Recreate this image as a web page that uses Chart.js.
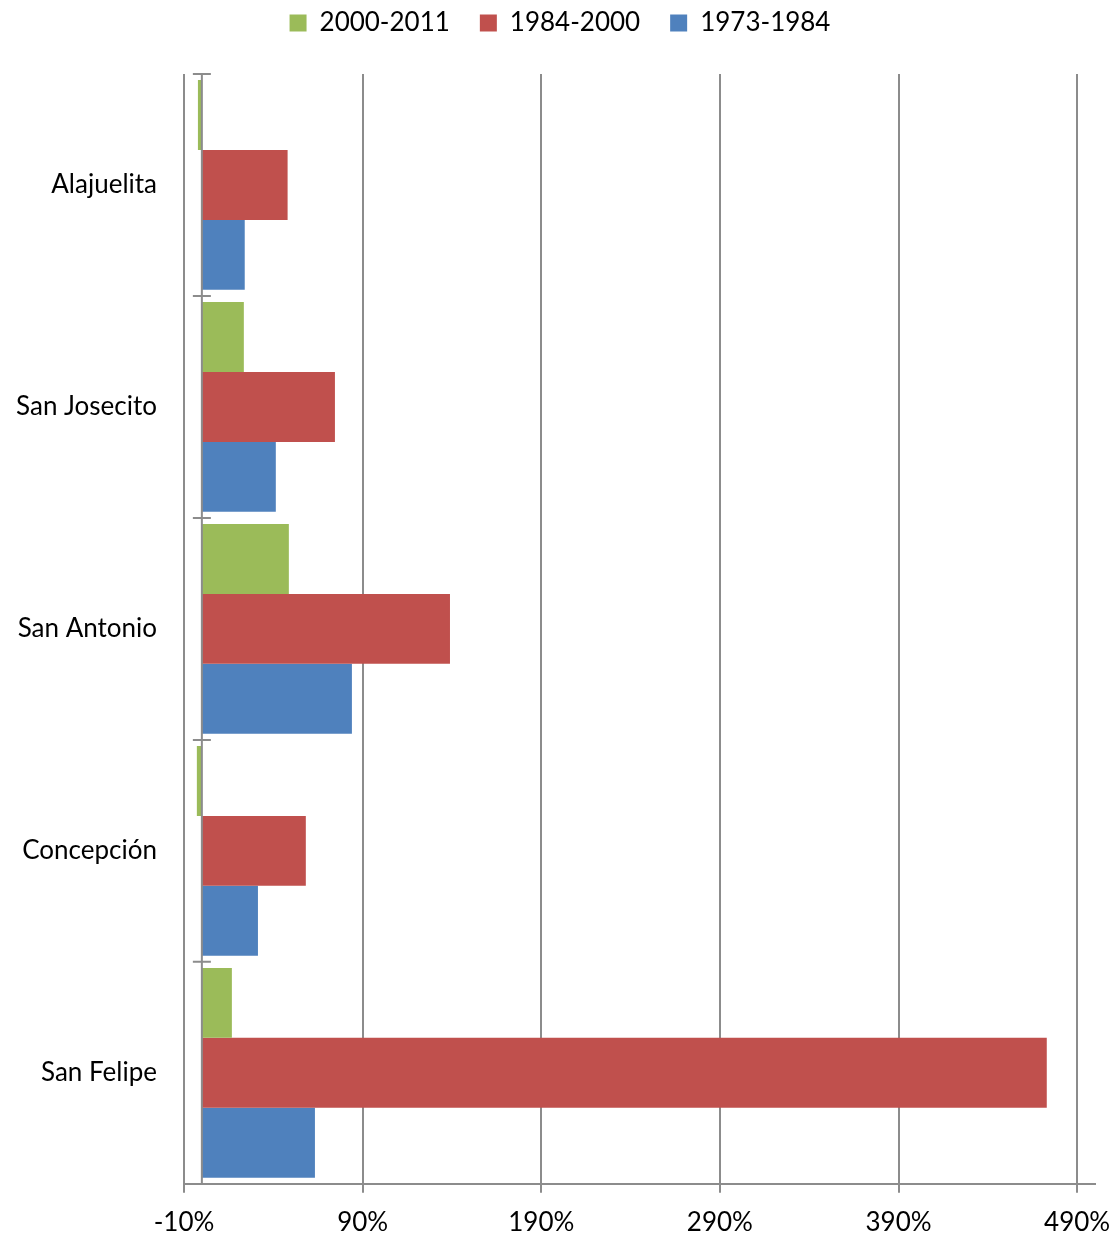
<!DOCTYPE html>
<html>
<head>
<meta charset="utf-8">
<script src="https://cdn.jsdelivr.net/npm/chart.js@4"></script>
<style>
  body { margin: 0; background: #fff; }
  #wrap { width: 1120px; height: 1238px; }
</style>
</head>
<body>
<div id="wrap"><canvas id="chart" width="1120" height="1238"></canvas></div>
<script>
const categories = ['Alajuelita', 'San Josecito', 'San Antonio', 'Concepción', 'San Felipe']
const serie2000 = [-2.2, 23.5, 48.7, -2.8, 16.8]
const serie1984 = [48, 74.5, 138.9, 58.2, 473]
const serie1973 = [24, 41.4, 84, 31.4, 63.3]
const tickValues = [-10, 90, 190, 290, 390, 490]

const gridGray = '#8c8c8c'
const fontFamily = 'Lato, "Open Sans", sans-serif'
const fontSize = 26

// zero line + short marks between categories, like the excel axis
const zeroAxis = {
  id: 'zeroAxis',
  afterDatasetsDraw(chart) {
    const { ctx, scales, chartArea } = chart
    const x0 = scales.x.getPixelForValue(0)
    ctx.save()
    ctx.strokeStyle = gridGray
    ctx.lineWidth = 2
    ctx.beginPath()
    ctx.moveTo(x0, chartArea.top)
    ctx.lineTo(x0, chartArea.bottom)
    const step = (chartArea.bottom - chartArea.top) / categories.length
    for (let i = 0; i < categories.length; i++) {
      const y = chartArea.top + i * step
      ctx.moveTo(x0 - 9, y)
      ctx.lineTo(x0 + 9, y)
    }
    ctx.stroke()
    ctx.restore()
  }
}

// more room under the legend
const legendGap = {
  id: 'legendGap',
  beforeInit(chart) {
    const fit = chart.legend.fit
    chart.legend.fit = function () {
      fit.call(this)
      this.height += 28
    }
  }
}

new Chart(document.getElementById('chart'), {
  type: 'bar',
  data: {
    labels: categories,
    datasets: [
      { label: '2000-2011', data: serie2000, backgroundColor: '#9BBB59' },
      { label: '1984-2000', data: serie1984, backgroundColor: '#C0504D' },
      { label: '1973-1984', data: serie1973, backgroundColor: '#4F81BD' },
    ]
  },
  options: {
    indexAxis: 'y',
    responsive: false,
    animation: false,
    devicePixelRatio: 1,
    categoryPercentage: 0.945,
    barPercentage: 1,
    layout: { padding: { left: 0, right: 0, top: -20, bottom: -14 } },
    plugins: {
      tooltip: { enabled: false },
      legend: {
        position: 'top',
        labels: {
          boxWidth: 17,
          boxHeight: 17,
          padding: 30,
          color: '#000',
          font: { family: fontFamily, size: fontSize }
        }
      }
    },
    scales: {
      x: {
        min: -10,
        max: 500,
        afterBuildTicks(scale) {
          scale.ticks = tickValues.map(v => ({ value: v }))
        },
        afterFit(scale) {
          scale.paddingRight = 25
        },
        grid: {
          color: gridGray,
          lineWidth: 2,
          tickLength: 9,
          tickColor: gridGray
        },
        border: { color: gridGray, width: 2 },
        ticks: {
          color: '#000',
          padding: 14,
          maxRotation: 0,
          font: { family: fontFamily, size: fontSize },
          callback: v => v + '%'
        }
      },
      y: {
        afterFit(scale) {
          scale.width = 184
        },
        grid: { display: false },
        border: { display: false },
        ticks: {
          color: '#000',
          padding: 19,
          font: { family: fontFamily, size: fontSize }
        }
      }
    }
  },
  plugins: [zeroAxis, legendGap]
})
</script>
</body>
</html>
